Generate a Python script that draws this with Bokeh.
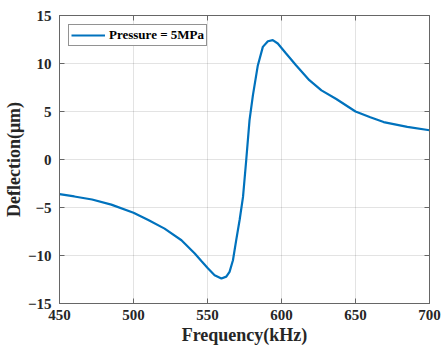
from bokeh.plotting import figure
from bokeh.models import LinearAxis, Range1d, FixedTicker, Legend, LegendItem
from bokeh.embed import file_html
from bokeh.resources import INLINE

freq = [450, 460, 472, 485, 500, 510, 521, 532.4, 541.4, 546, 550.4, 554.8,
        559.4, 562.7, 564.9, 567.2, 569.4, 571.7, 574, 576.2, 578.4, 580.7,
        584, 587.4, 590.8, 594.1, 597.5, 603.1, 609.8, 618.8, 627, 637, 650,
        660, 669, 685, 700]
deflection = [-3.6, -3.85, -4.17, -4.7, -5.55, -6.3, -7.2, -8.41, -9.8, -10.6,
              -11.35, -12.05, -12.4, -12.2, -11.7, -10.5, -8.4, -6.3, -3.9, 0.0,
              4.1, 6.7, 9.8, 11.73, 12.32, 12.43, 12.08, 11.04, 9.82, 8.26, 7.2,
              6.3, 5.0, 4.4, 3.9, 3.4, 3.05]
x_ticks = [450, 500, 550, 600, 650, 700]
y_ticks = [-15, -10, -5, 0, 5, 10, 15]
series_label = "Pressure = 5MPa"

FONT = "Liberation Serif"
AX = "#262626"
FRAME = "#666666"

p = figure(width=442, height=351, output_backend="svg", toolbar_location=None,
           x_range=Range1d(450, 700), y_range=Range1d(-15, 15),
           min_border_left=57, min_border_right=13, min_border_top=15,
           min_border_bottom=48)

r = p.line(freq, deflection, line_color="#0072BD", line_width=2.2)

p.outline_line_color = FRAME
p.outline_line_width = 1

for ax in (p.xaxis[0], p.yaxis[0]):
    ax.major_tick_in = 5
    ax.major_tick_out = 0
    ax.minor_tick_line_color = None
    ax.axis_line_color = FRAME
    ax.major_tick_line_color = FRAME
    ax.major_label_text_font = FONT
    ax.major_label_text_font_style = "bold"
    ax.major_label_text_font_size = "15px"
    ax.major_label_text_color = AX
    ax.axis_label_text_font = FONT
    ax.axis_label_text_font_style = "bold"
    ax.axis_label_text_font_size = "18px"
    ax.axis_label_text_color = AX

p.xaxis[0].ticker = FixedTicker(ticks=x_ticks)
p.yaxis[0].ticker = FixedTicker(ticks=y_ticks)
p.xaxis[0].axis_label = "Frequency(kHz)"
p.yaxis[0].axis_label = "Deflection(μm)"
p.xaxis[0].major_label_standoff = 6
p.yaxis[0].major_label_standoff = 8
p.xaxis[0].axis_label_standoff = 2
p.yaxis[0].axis_label_standoff = 1

for side, tk in (("right", y_ticks), ("above", x_ticks)):
    a = LinearAxis(ticker=FixedTicker(ticks=tk))
    a.major_tick_in = 5
    a.major_tick_out = 0
    a.minor_tick_line_color = None
    a.axis_line_color = FRAME
    a.major_tick_line_color = FRAME
    a.major_label_text_color = None
    a.major_label_text_font_size = "1px"
    a.major_label_standoff = 0
    p.add_layout(a, side)

p.xgrid.ticker = FixedTicker(ticks=x_ticks)
p.ygrid.ticker = FixedTicker(ticks=y_ticks)
p.grid.grid_line_color = AX
p.grid.grid_line_alpha = 0.13

legend = Legend(items=[LegendItem(label=series_label, renderers=[r])],
                location="top_left")
legend.label_text_font = FONT
legend.label_text_font_style = "bold"
legend.label_text_font_size = "13px"
legend.label_text_color = "#000000"
legend.border_line_color = AX
legend.border_line_width = 1
legend.margin = 9
legend.padding = 2
legend.spacing = 0
legend.glyph_width = 34
legend.glyph_height = 16
legend.label_standoff = 4
legend.label_height = 16
p.add_layout(legend)

open("out.html", "w").write(file_html(p, INLINE))
